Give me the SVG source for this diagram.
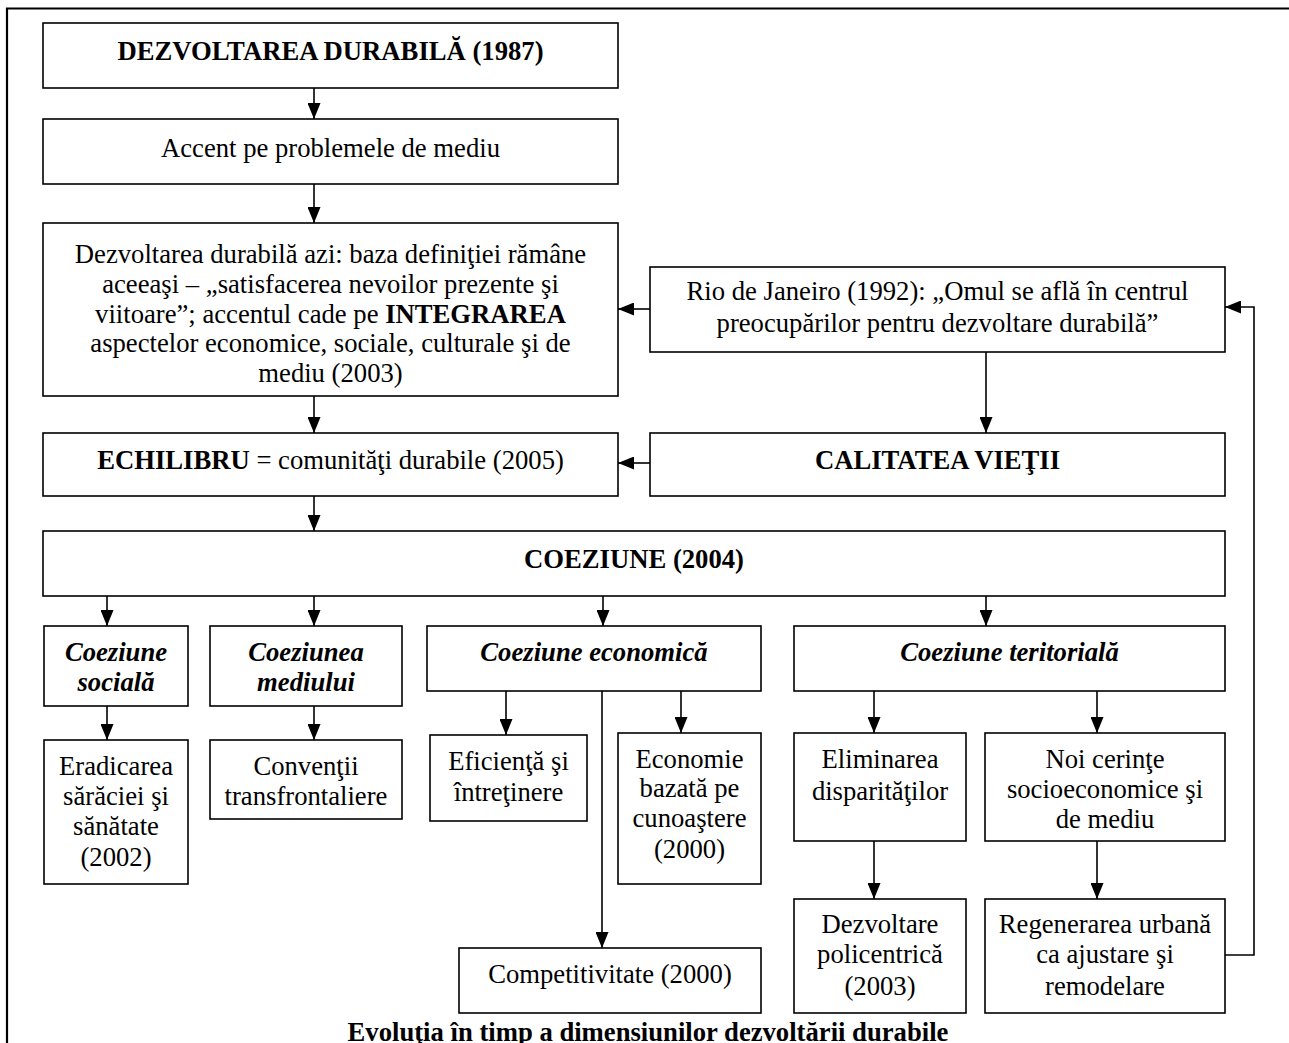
<svg xmlns="http://www.w3.org/2000/svg" width="1289" height="1043" viewBox="0 0 1289 1043">
<style>
  .box { fill: #fff; stroke: #000; stroke-width: 1.6; }
  .t { font-family: "Liberation Serif", "Times New Roman", serif; font-size: 26.67px; fill: #000; text-anchor: middle; }
  .b { font-weight: bold; }
  .bi { font-weight: bold; font-style: italic; }
  .c { fill: none; stroke: #000; stroke-width: 1.6; }
  .frame { fill: none; stroke: #000; stroke-width: 2.2; }
</style>
<defs>
  <marker id="ah" markerUnits="userSpaceOnUse" markerWidth="16" markerHeight="13" refX="16" refY="6.5" orient="auto">
    <path d="M0,0 L16,6.5 L0,13 Z" fill="#000"/>
  </marker>
</defs>
<rect width="1289" height="1043" fill="#fff"/>
<g id="frame">
  <path class="frame" d="M7,1043 L7,8.5 L1289,8.5"/>
</g>

<g id="connectors">
  <line class="c" x1="314" y1="88" x2="314" y2="119" marker-end="url(#ah)"/>
  <line class="c" x1="314" y1="184" x2="314" y2="223" marker-end="url(#ah)"/>
  <line class="c" x1="314" y1="396" x2="314" y2="433" marker-end="url(#ah)"/>
  <line class="c" x1="314" y1="496" x2="314" y2="531" marker-end="url(#ah)"/>
  <line class="c" x1="650" y1="309" x2="618" y2="309" marker-end="url(#ah)"/>
  <line class="c" x1="986" y1="352" x2="986" y2="433" marker-end="url(#ah)"/>
  <line class="c" x1="650" y1="463" x2="618" y2="463" marker-end="url(#ah)"/>
  <line class="c" x1="107" y1="596" x2="107" y2="626" marker-end="url(#ah)"/>
  <line class="c" x1="314" y1="596" x2="314" y2="626" marker-end="url(#ah)"/>
  <line class="c" x1="603" y1="596" x2="603" y2="626" marker-end="url(#ah)"/>
  <line class="c" x1="986" y1="596" x2="986" y2="626" marker-end="url(#ah)"/>
  <line class="c" x1="107" y1="706" x2="107" y2="740" marker-end="url(#ah)"/>
  <line class="c" x1="314" y1="706" x2="314" y2="740" marker-end="url(#ah)"/>
  <line class="c" x1="506" y1="691" x2="506" y2="735" marker-end="url(#ah)"/>
  <line class="c" x1="681" y1="691" x2="681" y2="733" marker-end="url(#ah)"/>
  <line class="c" x1="602" y1="691" x2="602" y2="948" marker-end="url(#ah)"/>
  <line class="c" x1="874" y1="691" x2="874" y2="733" marker-end="url(#ah)"/>
  <line class="c" x1="1097" y1="691" x2="1097" y2="733" marker-end="url(#ah)"/>
  <line class="c" x1="874" y1="841" x2="874" y2="899" marker-end="url(#ah)"/>
  <line class="c" x1="1097" y1="841" x2="1097" y2="899" marker-end="url(#ah)"/>
  <polyline class="c" points="1225,955 1254,955 1254,307 1225,307" marker-end="url(#ah)"/>
</g>

<g id="n-dezvoltarea">
  <rect class="box" x="43" y="23" width="575" height="65"/>
  <text class="t b" x="330.5" y="60">DEZVOLTAREA DURABILĂ (1987)</text>
</g>
<g id="n-accent">
  <rect class="box" x="43" y="119" width="575" height="65"/>
  <text class="t" x="330.5" y="157">Accent pe problemele de mediu</text>
</g>
<g id="n-azi">
  <rect class="box" x="43" y="223" width="575" height="173"/>
  <text class="t" x="330.5" y="263">Dezvoltarea durabilă azi: baza definiţiei rămâne</text>
  <text class="t" x="330.5" y="293">aceeaşi – „satisfacerea nevoilor prezente şi</text>
  <text class="t" x="330.5" y="323">viitoare”; accentul cade pe <tspan class="b">INTEGRAREA</tspan></text>
  <text class="t" x="330.5" y="352">aspectelor economice, sociale, culturale şi de</text>
  <text class="t" x="330.5" y="382">mediu (2003)</text>
</g>
<g id="n-rio">
  <rect class="box" x="650" y="267" width="575" height="85"/>
  <text class="t" x="937.5" y="300">Rio de Janeiro (1992): „Omul se află în centrul</text>
  <text class="t" x="937.5" y="332">preocupărilor pentru dezvoltare durabilă”</text>
</g>
<g id="n-echilibru">
  <rect class="box" x="43" y="433" width="575" height="63"/>
  <text class="t" x="330.5" y="469"><tspan class="b">ECHILIBRU</tspan> = comunităţi durabile (2005)</text>
</g>
<g id="n-calitatea">
  <rect class="box" x="650" y="433" width="575" height="63"/>
  <text class="t b" x="937.5" y="469">CALITATEA VIEŢII</text>
</g>
<g id="n-coeziune">
  <rect class="box" x="43" y="531" width="1182" height="65"/>
  <text class="t b" x="634" y="568">COEZIUNE (2004)</text>
</g>
<g id="n-sociala">
  <rect class="box" x="44" y="626" width="144" height="80"/>
  <text class="t bi" x="116" y="661">Coeziune</text>
  <text class="t bi" x="116" y="691">socială</text>
</g>
<g id="n-mediului">
  <rect class="box" x="210" y="626" width="192" height="80"/>
  <text class="t bi" x="306" y="661">Coeziunea</text>
  <text class="t bi" x="306" y="691">mediului</text>
</g>
<g id="n-economica">
  <rect class="box" x="427" y="626" width="334" height="65"/>
  <text class="t bi" x="594" y="661">Coeziune economică</text>
</g>
<g id="n-teritoriala">
  <rect class="box" x="794" y="626" width="431" height="65"/>
  <text class="t bi" x="1009.5" y="661">Coeziune teritorială</text>
</g>
<g id="n-eradicarea">
  <rect class="box" x="44" y="740" width="144" height="144"/>
  <text class="t" x="116" y="775">Eradicarea</text>
  <text class="t" x="116" y="805">sărăciei şi</text>
  <text class="t" x="116" y="835">sănătate</text>
  <text class="t" x="116" y="866">(2002)</text>
</g>
<g id="n-conventii">
  <rect class="box" x="210" y="740" width="192" height="79"/>
  <text class="t" x="306" y="775">Convenţii</text>
  <text class="t" x="306" y="805">transfrontaliere</text>
</g>
<g id="n-eficienta">
  <rect class="box" x="430" y="735" width="157" height="86"/>
  <text class="t" x="508.5" y="770">Eficienţă şi</text>
  <text class="t" x="508.5" y="801">întreţinere</text>
</g>
<g id="n-economie">
  <rect class="box" x="618" y="733" width="143" height="151"/>
  <text class="t" x="689.5" y="768">Economie</text>
  <text class="t" x="689.5" y="797">bazată pe</text>
  <text class="t" x="689.5" y="827">cunoaştere</text>
  <text class="t" x="689.5" y="858">(2000)</text>
</g>
<g id="n-competitivitate">
  <rect class="box" x="459" y="948" width="302" height="65"/>
  <text class="t" x="610" y="983">Competitivitate (2000)</text>
</g>
<g id="n-eliminarea">
  <rect class="box" x="794" y="733" width="172" height="108"/>
  <text class="t" x="880" y="768">Eliminarea</text>
  <text class="t" x="880" y="800">disparităţilor</text>
</g>
<g id="n-noi">
  <rect class="box" x="985" y="733" width="240" height="108"/>
  <text class="t" x="1105" y="768">Noi cerinţe</text>
  <text class="t" x="1105" y="798">socioeconomice şi</text>
  <text class="t" x="1105" y="828">de mediu</text>
</g>
<g id="n-policentrica">
  <rect class="box" x="794" y="899" width="172" height="114"/>
  <text class="t" x="880" y="933">Dezvoltare</text>
  <text class="t" x="880" y="963">policentrică</text>
  <text class="t" x="880" y="995">(2003)</text>
</g>
<g id="n-regenerarea">
  <rect class="box" x="985" y="899" width="240" height="114"/>
  <text class="t" x="1105" y="933">Regenerarea urbană</text>
  <text class="t" x="1105" y="963">ca ajustare şi</text>
  <text class="t" x="1105" y="995">remodelare</text>
</g>
<g id="caption">
  <text class="t b" x="648" y="1041">Evoluţia în timp a dimensiunilor dezvoltării durabile</text>
</g>
</svg>
